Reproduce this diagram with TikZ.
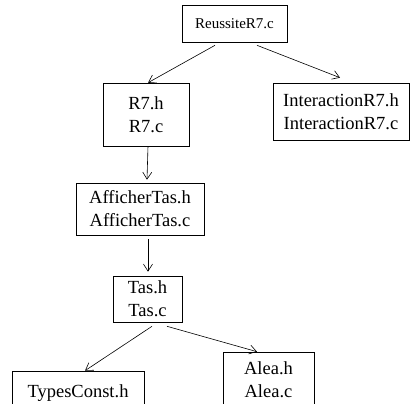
\documentclass[tikz,border=0pt]{standalone}
\usepackage{fontspec}
\setmainfont{Liberation Serif}
\usetikzlibrary{arrows.meta}
\begin{document}
\begin{tikzpicture}[x=1pt,y=-1pt,
  filebox/.style={draw,line width=0.6pt,inner sep=0pt,align=center,
    font=\fontsize{18.5}{23}\selectfont},
  dep/.style={line width=0.6pt,-{Straight Barb[length=7pt,width=9pt,line width=0.6pt]}}]
\useasboundingbox (0,0) rectangle (416,404);
\clip (0,0) rectangle (416,404);
\node[filebox,minimum width=105pt,minimum height=37pt,font=\fontsize{15}{18}\selectfont] (top) at (234.5,23.5) {ReussiteR7.c};
\node[filebox,minimum width=86pt,minimum height=63pt] (r7) at (146,114.5) {R7.h\\R7.c};
\node[filebox,minimum width=136pt,minimum height=57pt] (inter) at (341,111.5) {InteractionR7.h\\InteractionR7.c};
\node[filebox,minimum width=128pt,minimum height=52pt] (aff) at (140,209) {AfficherTas.h\\AfficherTas.c};
\node[filebox,minimum width=69pt,minimum height=46pt] (tas) at (147.5,299) {Tas.h\\Tas.c};
\node[filebox,minimum width=132pt,minimum height=44pt] (types) at (78,393) {TypesConst.h};
\node[filebox,minimum width=91pt,minimum height=56pt] (alea) at (268.5,380) {Alea.h\\Alea.c};
\draw[dep] ([xshift=-19.5pt,yshift=-3pt]top.south) -- ([xshift=2pt]r7.north);
\draw[dep] ([xshift=22.5pt,yshift=-3pt]top.south) -- ([xshift=-1pt,yshift=5pt]inter.north);
\draw[dep] ([xshift=2pt]r7.south) -- ([xshift=7pt,yshift=3pt]aff.north);
\draw[dep] ([xshift=8pt,yshift=-4pt]aff.south) -- ([xshift=0.5pt,yshift=4pt]tas.north);
\draw[dep] ([xshift=4.5pt,yshift=-4pt]tas.south) -- ([xshift=7pt]types.north);
\draw[dep] ([xshift=19.5pt,yshift=-4pt]tas.south) -- ([xshift=-11.5pt]alea.north);
\end{tikzpicture}
\end{document}
